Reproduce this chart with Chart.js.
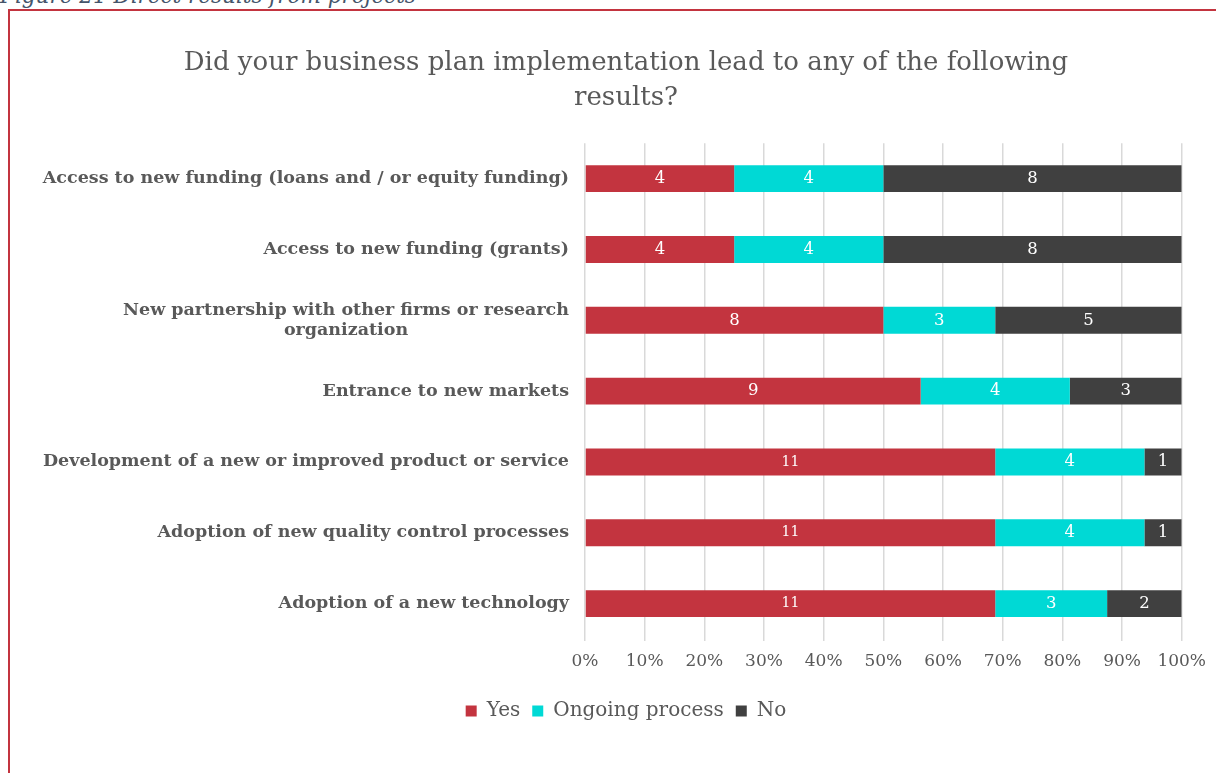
<!DOCTYPE html>
<html>
<head>
<meta charset="utf-8">
<script src="https://cdn.jsdelivr.net/npm/chart.js@4.4.1/dist/chart.umd.min.js"></script>
<style>
  body { margin: 0; background: #fff; }
  #wrap { position: relative; width: 1216px; height: 773px; overflow: hidden; }
  #frame { position: absolute; left: 8px; top: 9px; right: -4px; bottom: -4px;
           border-left: 2px solid #C3343F; border-top: 2px solid #C3343F; }
  #caption { position: absolute; left: 0px; top: -17px; font: italic 21.5px 'DejaVu Serif', serif;
             color: #44546A; white-space: nowrap; }
  #chart { position: absolute; left: 0; top: 0; }
</style>
</head>
<body>
<div id="wrap">
  <div id="caption">Figure 21 Direct results from projects</div>
  <div id="frame"></div>
  <canvas id="chart" width="1216" height="773"></canvas>
</div>
<script>
const SERIF = "'DejaVu Serif', 'Liberation Serif', serif";

// Answers per result type
const categories = [
    ['Access to new funding (loans and / or equity funding)'],
    ['Access to new funding (grants)'],
    ['New partnership with other firms or research', 'organization'],
    ['Entrance to new markets'],
    ['Development of a new or improved product or service'],
    ['Adoption of new quality control processes'],
    ['Adoption of a new technology']
];
const yesCounts = [4, 4, 8, 9, 11, 11, 11];
const ongoingCounts = [4, 4, 3, 4, 4, 4, 3];
const noCounts = [8, 8, 5, 3, 1, 1, 2];
const xTicks = ['0%', '10%', '20%', '30%', '40%', '50%', '60%', '70%', '80%', '90%', '100%'];

const totals = yesCounts.map((v, i) => v + ongoingCounts[i] + noCounts[i]);
const share = counts => counts.map((v, i) => v / totals[i] * 100);

const countsByDataset = [yesCounts, ongoingCounts, noCounts];

// white counts in the middle of each segment
const segmentLabels = {
    id: 'segmentLabels',
    afterDatasetsDraw(chart) {
        const ctx = chart.ctx;
        ctx.save();
        ctx.fillStyle = '#ffffff';
        ctx.textAlign = 'center';
        ctx.textBaseline = 'middle';
        chart.data.datasets.forEach((ds, di) => {
            chart.getDatasetMeta(di).data.forEach((bar, i) => {
                const n = countsByDataset[di][i];
                ctx.font = (n > 9 ? '14px ' : '16.5px ') + SERIF;
                const x = (bar.x + bar.base) / 2;
                ctx.fillText(String(n), x, bar.y);
            });
        });
        ctx.restore();
    }
};

// category names: block right-aligned to the axis, lines centred inside the block
const categoryLabels = {
    id: 'categoryLabels',
    afterDraw(chart) {
        const ctx = chart.ctx;
        const yScale = chart.scales.y;
        const right = chart.chartArea.left - 16;
        ctx.save();
        ctx.fillStyle = '#595959';
        ctx.font = 'bold 17.5px ' + SERIF;
        ctx.textBaseline = 'middle';
        ctx.textAlign = 'center';
        const lh = 20;
        categories.forEach((lines, i) => {
            const cy = yScale.getPixelForValue(i);
            const w = Math.max(...lines.map(l => ctx.measureText(l).width));
            const cx = right - w / 2;
            const y0 = cy - (lines.length - 1) * lh / 2;
            lines.forEach((l, k) => ctx.fillText(l, cx, y0 + k * lh));
        });
        ctx.restore();
    }
};

new Chart(document.getElementById('chart'), {
    type: 'bar',
    data: {
        labels: categories.map(c => c.join(' ')),
        datasets: [
            { label: 'Yes', data: share(yesCounts), backgroundColor: '#C3343F' },
            { label: 'Ongoing process', data: share(ongoingCounts), backgroundColor: '#00D9D5' },
            { label: 'No', data: share(noCounts), backgroundColor: '#404040' }
        ]
    },
    options: {
        responsive: false,
        animation: false,
        indexAxis: 'y',
        barPercentage: 0.38,
        categoryPercentage: 1,
        layout: { padding: { left: 51, right: 15, top: 0, bottom: 42 } },
        scales: {
            x: {
                stacked: true,
                min: 0,
                max: 100,
                ticks: {
                    stepSize: 10,
                    padding: 10,
                    color: '#595959',
                    font: { family: SERIF, size: 17 },
                    callback: (v, i) => xTicks[i]
                },
                grid: { color: '#D9D9D9', lineWidth: 1.5, drawTicks: true, tickLength: 2 },
                border: { display: false },
                afterFit: s => { s.height = 50; }
            },
            y: {
                stacked: true,
                ticks: { display: false },
                grid: { display: false },
                border: { display: false },
                afterFit: s => { s.width = 534; }
            }
        },
        plugins: {
            title: {
                display: true,
                text: ['Did your business plan implementation lead to any of the following', 'results?'],
                color: '#595959',
                font: { family: SERIF, size: 26, weight: 'normal', lineHeight: 1.35 },
                padding: { top: 46, bottom: 27 }
            },
            legend: {
                position: 'bottom',
                labels: {
                    boxWidth: 11,
                    boxHeight: 11,
                    padding: 12,
                    color: '#595959',
                    font: { family: SERIF, size: 20 }
                }
            },
            tooltip: { enabled: false }
        }
    },
    plugins: [segmentLabels, categoryLabels]
});
</script>
</body>
</html>
